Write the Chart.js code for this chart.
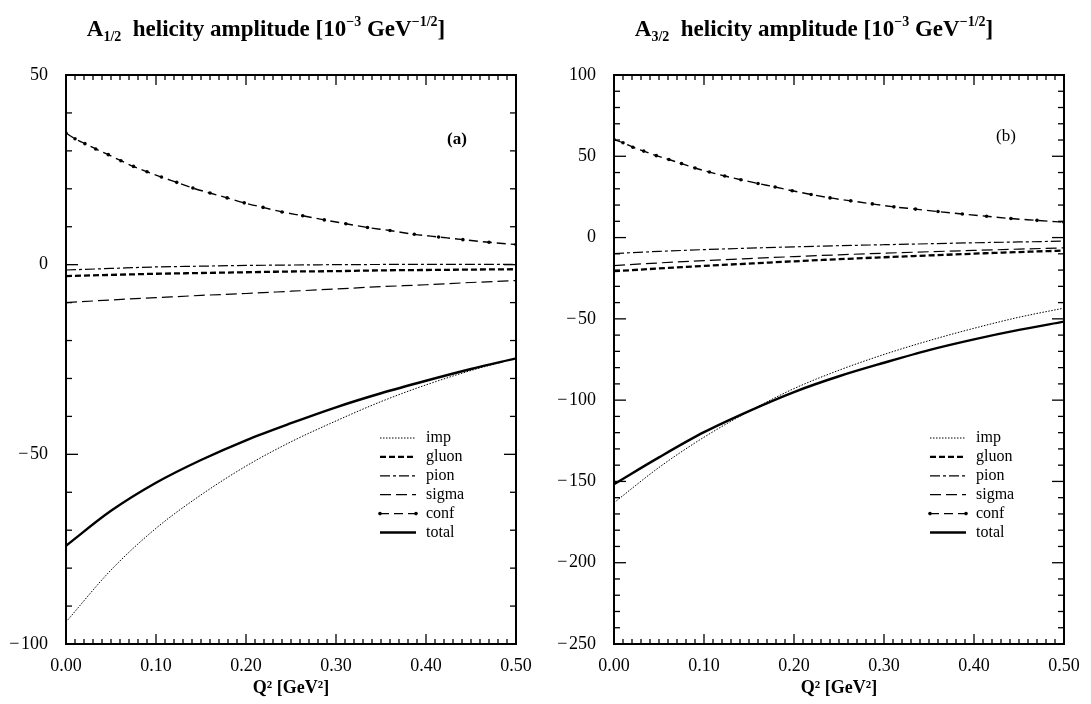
<!DOCTYPE html>
<html>
<head>
<meta charset="utf-8">
<script src="https://cdn.jsdelivr.net/npm/chart.js@4/dist/chart.umd.min.js"></script>
<style>
  html, body { margin: 0; padding: 0; background: #fff; }
  #page { position: relative; width: 1091px; height: 704px; overflow: hidden; font-family: 'Liberation Serif', 'DejaVu Serif', serif; }
  .panel { position: absolute; top: 0; height: 704px; }
  .ptitle { position: absolute; top: 16px; white-space: nowrap; font-weight: bold; font-size: 23px; line-height: 26px; transform: translateX(-50%); }
  .ptitle sub { font-size: 14px; vertical-align: -5px; line-height: 0; }
  .ptitle sup { font-size: 14px; vertical-align: 10px; line-height: 0; }
</style>
</head>
<body>
<div id="page">
  <div class="panel" style="left:0;width:545px;"><canvas id="chartA"></canvas></div>
  <div class="panel" style="left:545px;width:546px;"><canvas id="chartB"></canvas></div>
  <div class="ptitle" style="left:266px;">A<sub>1/2</sub>&nbsp; helicity amplitude [10<sup>&minus;3</sup> GeV<sup>&minus;1/2</sup>]</div>
  <div class="ptitle" style="left:814px;">A<sub>3/2</sub>&nbsp; helicity amplitude [10<sup>&minus;3</sup> GeV<sup>&minus;1/2</sup>]</div>
</div>
<script>
/* global Chart */

// Q^2 grid (GeV^2) for the smooth curves
const q2 = [0, 0.05, 0.10, 0.15, 0.20, 0.25, 0.30, 0.35, 0.40, 0.45, 0.50];
// Q^2 positions of the markers on the "conf" curves
const q2Conf = [0, 0.010, 0.021, 0.033, 0.047, 0.061, 0.075, 0.090, 0.106, 0.123, 0.141, 0.160, 0.179,
  0.198, 0.219, 0.240, 0.263, 0.287, 0.311, 0.335, 0.360, 0.387, 0.414, 0.441, 0.470, 0.500];

// (a) A_1/2
const impA = [-94.2, -80.5, -69.5, -60.7, -53.1, -46.7, -41.2, -36.1, -31.7, -27.9, -24.7];
const gluonA = [-3.0, -2.7, -2.4, -2.2, -2.0, -1.8, -1.7, -1.5, -1.4, -1.3, -1.2];
const pionA = [-1.4, -1.0, -0.6, -0.4, -0.2, -0.1, 0.0, 0.05, 0.1, 0.1, 0.1];
const sigmaA = [-10.0, -9.3, -8.7, -8.1, -7.6, -7.0, -6.4, -5.8, -5.3, -4.7, -4.2];
const totalA = [-74.1, -64.9, -57.5, -51.5, -46.3, -41.8, -37.6, -33.9, -30.6, -27.5, -24.7];
const confA = [34.7, 33.2, 31.9, 30.5, 29.0, 27.4, 25.9, 24.5, 23.1, 21.7, 20.2, 18.9, 17.6,
  16.3, 15.1, 13.9, 12.9, 11.8, 10.8, 9.8, 9.0, 8.0, 7.3, 6.6, 5.9, 5.3];

// (b) A_3/2
const impB = [-163.1, -141.4, -122.8, -106.9, -92.9, -81.6, -71.9, -63.4, -55.8, -49.0, -43.4];
const gluonB = [-20.7, -19.0, -17.4, -16.0, -14.6, -13.3, -12.1, -11.0, -9.9, -8.9, -8.0];
const pionB = [-9.8, -8.5, -7.4, -6.5, -5.7, -5.0, -4.4, -3.8, -3.2, -2.7, -2.2];
const sigmaB = [-17.2, -15.6, -14.2, -12.9, -11.7, -10.6, -9.6, -8.7, -7.9, -7.1, -6.3];
const totalB = [-151.7, -135.2, -119.7, -106.7, -95.0, -85.3, -77.0, -69.2, -62.6, -56.8, -51.7];
const confB = [60.3, 58.3, 55.6, 53.2, 50.4, 48.0, 45.5, 42.8, 40.3, 37.9, 35.6, 33.3, 31.1,
  28.8, 26.5, 24.4, 22.6, 20.7, 18.9, 17.5, 16.0, 14.5, 13.1, 11.7, 10.6, 9.4];

const seriesNames = ['imp', 'gluon', 'pion', 'sigma', 'conf', 'total'];
const xTicks = [0, 0.1, 0.2, 0.3, 0.4, 0.5];

const SERIF = "'Liberation Serif', 'DejaVu Serif', serif";

const styles = {
  imp: { borderWidth: 1, borderDash: [1.5, 1.5] },
  gluon: { borderWidth: 2.3, borderDash: [6, 3] },
  pion: { borderWidth: 1.2, borderDash: [10, 3, 3, 3] },
  sigma: { borderWidth: 1.2, borderDash: [11, 5] },
  conf: { borderWidth: 1.4, borderDash: [9, 5], pointRadius: 1.8 },
  total: { borderWidth: 2.4, borderDash: [] },
};

function pts(xs, ys) {
  return xs.map((x, i) => ({ x, y: ys[i] }));
}

function makeDatasets(imp, gluon, pion, sigma, conf, total) {
  const data = { imp: pts(q2, imp), gluon: pts(q2, gluon), pion: pts(q2, pion),
    sigma: pts(q2, sigma), conf: pts(q2Conf, conf), total: pts(q2, total) };
  return seriesNames.map((name) => ({
    label: name,
    data: data[name],
    borderColor: '#000',
    backgroundColor: '#000',
    borderWidth: styles[name].borderWidth,
    borderDash: styles[name].borderDash,
    pointRadius: styles[name].pointRadius || 0,
    pointBorderWidth: 0,
    pointBackgroundColor: '#000',
    tension: 0.4,
    cubicInterpolationMode: 'monotone',
    fill: false,
  }));
}

function line(ctx, x1, y1, x2, y2) {
  ctx.beginPath();
  ctx.moveTo(x1, y1);
  ctx.lineTo(x2, y2);
  ctx.stroke();
}

// inner tick marks on all four sides, frame, legend and panel tag
const frameTicks = {
  id: 'frameTicks',
  afterDatasetsDraw(chart, args, opts) {
    const { ctx, chartArea: a } = chart;
    const x = chart.scales.x;
    const y = chart.scales.y;
    ctx.save();
    ctx.strokeStyle = '#000';
    ctx.lineWidth = 1.3;
    ctx.setLineDash([]);

    for (let i = 0; i <= 50; i++) {
      const px = x.getPixelForValue(i * 0.01);
      const len = i % 10 === 0 ? 10 : 5;
      line(ctx, px, a.bottom, px, a.bottom - len);
      line(ctx, px, a.top, px, a.top + len);
    }
    for (let v = y.min; v <= y.max; v += 10) {
      const py = y.getPixelForValue(v);
      const len = v % 50 === 0 ? 12 : 6;
      line(ctx, a.left, py, a.left + len, py);
      line(ctx, a.right, py, a.right - len, py);
    }

    ctx.lineWidth = 2;
    ctx.strokeRect(a.left, a.top, a.right - a.left, a.bottom - a.top);

    // legend
    ctx.font = `16px ${SERIF}`;
    ctx.fillStyle = '#000';
    ctx.textBaseline = 'middle';
    ctx.textAlign = 'left';
    chart.data.datasets.forEach((ds, i) => {
      const ly = a.top + opts.legendTop + i * 18.9;
      const lx1 = a.left + opts.legendLeft;
      const lx2 = lx1 + 36;
      ctx.lineWidth = ds.borderWidth;
      ctx.setLineDash(ds.borderDash);
      line(ctx, lx1, ly, lx2, ly);
      ctx.setLineDash([]);
      if (ds.pointRadius > 0) {
        [lx1, lx2].forEach((px) => {
          ctx.beginPath();
          ctx.arc(px, ly, ds.pointRadius, 0, Math.PI * 2);
          ctx.fill();
        });
      }
      ctx.fillText(ds.label, lx2 + 10, ly);
    });

    // panel tag
    ctx.font = `${opts.tagBold ? 'bold ' : ''}17px ${SERIF}`;
    ctx.textAlign = 'center';
    ctx.fillText(opts.tag, a.left + opts.tagX, a.top + opts.tagY);
    ctx.restore();
  },
};

function fmtY(v) {
  return v < 0 ? '\u2212\u200a' + Math.abs(v) : String(v);
}

function makeChart(id, datasets, cfg) {
  const tickFont = { family: SERIF, size: 18 };
  return new Chart(document.getElementById(id), {
    type: 'line',
    data: { datasets },
    plugins: [frameTicks],
    options: {
      responsive: true,
      maintainAspectRatio: false,
      animation: false,
      layout: { padding: { top: 75, right: cfg.padRight, left: 0, bottom: 0 } },
      plugins: {
        legend: { display: false },
        tooltip: { enabled: false },
        frameTicks: cfg.frame,
      },
      scales: {
        x: {
          type: 'linear',
          min: 0,
          max: 0.5,
          afterBuildTicks: (s) => { s.ticks = xTicks.map((v) => ({ value: v })); },
          grid: { display: false },
          border: { display: false },
          ticks: { callback: (v) => Number(v).toFixed(2), font: tickFont, color: '#000', padding: 3, maxRotation: 0, autoSkip: false },
          title: { display: true, text: 'Q\u00b2 [GeV\u00b2]', color: '#000', font: { family: SERIF, size: 18, weight: 'bold' }, padding: { top: 0, bottom: 5 } },
          afterFit: (s) => { s.height = 60; },
        },
        y: {
          type: 'linear',
          min: cfg.yMin,
          max: cfg.yMax,
          grid: { display: false },
          border: { display: false },
          ticks: { stepSize: 50, callback: fmtY, font: tickFont, color: '#000', padding: 10 },
          afterFit: (s) => { s.width = cfg.yWidth; },
        },
      },
    },
  });
}

makeChart('chartA', makeDatasets(impA, gluonA, pionA, sigmaA, confA, totalA), {
  yMin: -100, yMax: 50, yWidth: 66, padRight: 29,
  frame: { legendLeft: 314, legendTop: 363, tag: '(a)', tagBold: true, tagX: 391, tagY: 65 },
});

makeChart('chartB', makeDatasets(impB, gluonB, pionB, sigmaB, confB, totalB), {
  yMin: -250, yMax: 100, yWidth: 69, padRight: 27,
  frame: { legendLeft: 316, legendTop: 363, tag: '(b)', tagBold: false, tagX: 392, tagY: 62 },
});
</script>
</body>
</html>
